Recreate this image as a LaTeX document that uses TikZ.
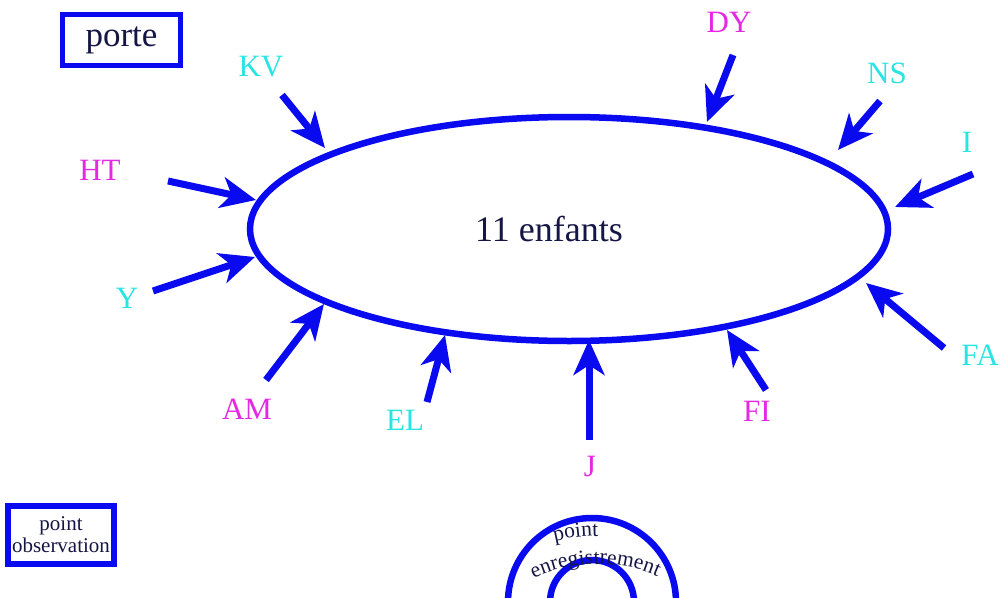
\documentclass[tikz,border=0pt]{standalone}
\usepackage{fontspec}
\setmainfont{Liberation Serif}
\usetikzlibrary{arrows.meta,decorations.text}
\definecolor{lineblue}{RGB}{10,10,240}
\definecolor{mag}{RGB}{228,40,228}
\definecolor{cyn}{RGB}{40,228,228}
\definecolor{navy}{RGB}{22,22,70}
\newcommand{\lblfont}{\fontsize{31}{36}\selectfont}
\newcommand{\ptfont}{\fontsize{21.5}{24}\selectfont}
\newcommand{\obsfont}{\fontsize{21}{25}\selectfont}
\begin{document}
\begin{tikzpicture}[x=1pt,y=-1pt,
  ring/.style={draw=lineblue,line width=6.5pt},
  inarrow/.style={draw=lineblue,line width=7pt,-{Stealth[length=35pt,width=31pt,inset=10pt]}},
  lbl/.style={font=\lblfont,inner sep=0pt},
  mlbl/.style={lbl,text=mag},
  clbl/.style={lbl,text=cyn},
  box/.style={draw=lineblue,line width=5pt,text=navy,inner sep=0pt},
  arctext/.style={decorate,decoration={text along path,text align=center,text color=navy,text={#1}}}]
\useasboundingbox (0,0) rectangle (1006,597);
\clip (0,0) rectangle (1006,597);
\fill[white] (0,0) rectangle (1006,597);

% main ellipse
\coordinate (ec) at (569,229);
\draw[ring] (ec) ellipse [x radius=319,y radius=112];
\node[text=navy,font=\fontsize{36}{40}\selectfont,inner sep=0pt] (enf) at (549,229) {11 enfants};

% boxes
\node[box,font=\fontsize{35}{40}\selectfont,minimum width=118pt,minimum height=51pt] (porte) at (121.5,40) {porte};
\node[box,font=\obsfont,align=center,minimum width=106pt,minimum height=58pt,line width=6pt] (obs) at (61,535) {point\\[-3pt]observation};

% labels
\node[mlbl] (HT) at (100,170) {HT};
\node[clbl] (KV) at (261,67) {KV};
\node[clbl] (Y) at (127,298) {Y};
\node[mlbl] (AM) at (247,409) {AM};
\node[clbl] (EL) at (405,420) {EL};
\node[mlbl] (J) at (590,466) {J};
\node[mlbl] (FI) at (757,411) {FI};
\node[clbl] (FA) at (980,355) {FA};
\node[clbl] (I) at (967,142) {I};
\node[clbl] (NS) at (887,73) {NS};
\node[mlbl] (DY) at (729,22) {DY};

% arrow ends
\coordinate (kv1) at (282,95);  \coordinate (kv2) at (325,148);
\coordinate (ht1) at (168,181); \coordinate (ht2) at (256,200);
\coordinate (y1) at (153,291);  \coordinate (y2) at (255,257);
\coordinate (am1) at (266,380); \coordinate (am2) at (324,304);
\coordinate (el1) at (427,402); \coordinate (el2) at (445,335);
\coordinate (j1) at (589,440);  \coordinate (j2) at (589,340);
\coordinate (fi1) at (766,390); \coordinate (fi2) at (727,330);
\coordinate (fa1) at (944,348); \coordinate (fa2) at (866,283);
\coordinate (i1) at (973,174);  \coordinate (i2) at (895,207);
\coordinate (ns1) at (880,101); \coordinate (ns2) at (838,150);
\coordinate (dy1) at (733,55);  \coordinate (dy2) at (707,122);

\foreach \a in {kv,ht,y,am,el,j,fi,fa,i,ns,dy}
  \draw[inarrow] (\a1) -- (\a2);

% recording point
\coordinate (rc) at (592,602);
\draw[ring] (rc) circle [radius=84];
\draw[ring] (rc) circle [radius=42];
\path[arctext={|\ptfont|point}] (537.1,546.7) arc[start angle=-110,end angle=-84,radius=178];
\path[arctext={|\ptfont|enregistrement}] (520.7,585.4) arc[start angle=-121,end angle=-61,radius=150];
\end{tikzpicture}
\end{document}
